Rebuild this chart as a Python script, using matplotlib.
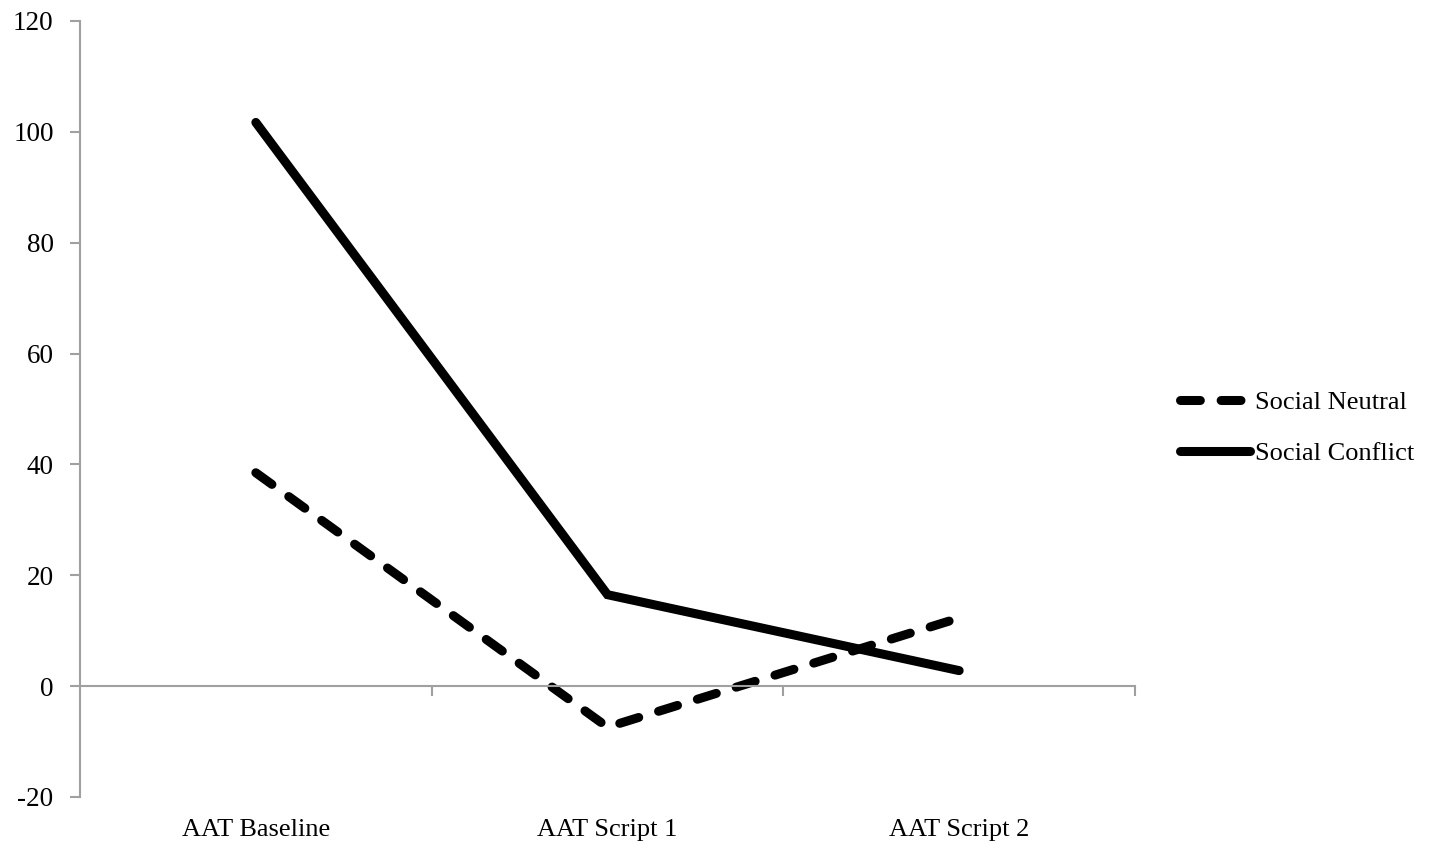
import matplotlib
matplotlib.use('Agg')
import matplotlib.pyplot as plt
import matplotlib.transforms as mtransforms

categories = ['AAT Baseline', 'AAT Script 1', 'AAT Script 2']
social_neutral = [38.5, -7.4, 12.3]
social_conflict = [101.7, 16.5, 2.8]
y_ticks = [-20, 0, 20, 40, 60, 80, 100, 120]

plt.rcParams['font.family'] = ['Liberation Serif', 'DejaVu Serif']
axis_grey = '#a0a0a0'

fig = plt.figure(figsize=(14.31, 8.51), dpi=100)
ax = fig.add_axes([80 / 1431, 1 - 797 / 851, (1135 - 80) / 1431, (797 - 21) / 851])

x = list(range(len(categories)))
ax.plot(x, social_neutral, color='black', linewidth=6.5,
        linestyle=(0, (2.2, 2.3)), dash_capstyle='round',
        solid_capstyle='round', label='Social Neutral')
ax.plot(x, social_conflict, color='black', linewidth=6.5,
        solid_capstyle='round', solid_joinstyle='miter', label='Social Conflict')

ax.set_xlim(-0.5, len(categories) - 0.5)
ax.set_ylim(-20, 120)
ax.set_yticks(y_ticks)
ax.set_yticklabels([str(v) for v in y_ticks], fontsize=19.5)

# x axis sits on zero, tick marks between categories
ax.spines['bottom'].set_position(('data', 0))
ax.set_xticks([i + 0.5 for i in x])
ax.set_xticklabels([])
for side in ['top', 'right']:
    ax.spines[side].set_visible(False)
for side in ['left', 'bottom']:
    ax.spines[side].set_color(axis_grey)
    ax.spines[side].set_linewidth(1.5)
ax.tick_params(axis='both', colors=axis_grey, length=7, width=1.5)
ax.tick_params(axis='y', labelcolor='black', pad=12)

trans = mtransforms.blended_transform_factory(ax.transData, ax.transAxes)
for i, name in enumerate(categories):
    ax.text(i, -0.043, name, transform=trans, ha='center', va='center', fontsize=19)

fig.legend(loc='center left', bbox_to_anchor=(1180 / 1431, 1 - 428 / 851),
           frameon=False, fontsize=19, handlelength=2.65, handletextpad=0.2,
           labelspacing=1.05, borderpad=0, borderaxespad=0)

fig.savefig('out.png', dpi=100)
